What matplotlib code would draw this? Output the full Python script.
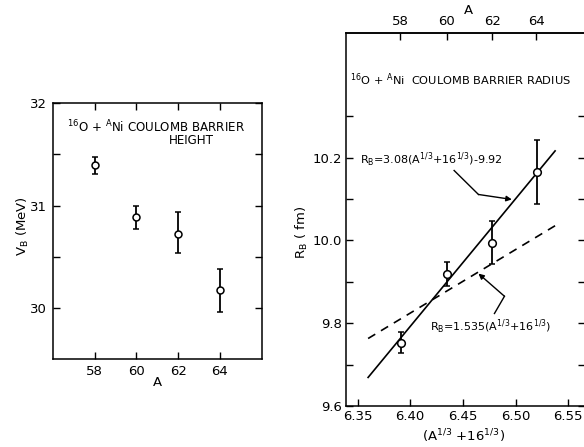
import numpy as np
import matplotlib
matplotlib.use("Agg")
import matplotlib.pyplot as plt

plt.rcParams['font.family'] = ['DejaVu Sans']
plt.rcParams['mathtext.default'] = 'regular'

# ---------------- data ----------------
# Left panel: Coulomb barrier height
A_vals = [58, 60, 62, 64]
VB = [31.395, 30.888, 30.722, 30.176]
VB_err_lo = [0.088, 0.114, 0.19, 0.218]
VB_err_hi = [0.081, 0.110, 0.21, 0.204]

# Right panel: Coulomb barrier radius
X_vals = [6.391, 6.435, 6.478, 6.520]      # A^(1/3) + 16^(1/3)
RB = [9.753, 9.918, 9.993, 10.165]
RB_err_lo = [0.024, 0.029, 0.051, 0.078]
RB_err_hi = [0.025, 0.029, 0.053, 0.078]

# Fit lines (end points)
fit_solid_x = [6.360, 6.5376]
fit_solid_y = [9.669, 10.216]
fit_dash_x = [6.360, 6.540]
fit_dash_y = [9.763, 10.039]

# Axis ticks
left_xticks = [58, 60, 62, 64]
left_yticks = [30.0, 30.5, 31.0, 31.5, 32.0]
left_ylabels = ['30', '', '31', '', '32']
right_xticks = [6.35, 6.40, 6.45, 6.50, 6.55]
right_xlabels = ['6.35', '6.40', '6.45', '6.50', '6.55']
right_yticks = [9.6, 9.7, 9.8, 9.9, 10.0, 10.1, 10.2, 10.3]
right_ylabels = ['9.6', '', '9.8', '', '10.0', '', '10.2', '']
top_A_ticks = [58, 60, 62, 64]

W, H = 584, 447
fig = plt.figure(figsize=(W / 100, H / 100), dpi=100)

def px_axes(x0, y0, x1, y1):
    return fig.add_axes([x0 / W, 1 - y1 / H, (x1 - x0) / W, (y1 - y0) / H])

FS = 9.5
tick_kw = dict(direction='in', length=5, width=1.0, labelsize=FS)

# ---------------- left panel ----------------
axL = px_axes(52.7, 103.0, 261.7, 359.3)
axL.errorbar(A_vals, VB, yerr=[VB_err_lo, VB_err_hi], fmt='o', mfc='white',
             mec='black', color='black', ms=5, mew=1.1, elinewidth=1.3,
             capsize=2.5, capthick=1.3)
axL.set_xlim(56, 66)
axL.set_ylim(29.5, 32)
axL.set_xticks(left_xticks)
axL.set_xticklabels([str(a) for a in left_xticks])
axL.set_yticks(left_yticks)
axL.set_yticklabels(left_ylabels)
axL.tick_params(top=True, right=True, pad=4, **tick_kw)
for s in axL.spines.values():
    s.set_linewidth(1.1)
axL.text(0.067, 0.907, r'$^{16}$O + $^{A}$Ni COULOMB BARRIER', transform=axL.transAxes,
         ha='left', va='center', fontsize=8.6)
axL.text(0.665, 0.853, 'HEIGHT', transform=axL.transAxes, ha='center', va='center', fontsize=8.6)
axL.text(-0.142, 0.52, r'V$_B$ (MeV)', transform=axL.transAxes, rotation=90,
         ha='center', va='center', fontsize=FS)
axL.text(0.5, -0.092, 'A', transform=axL.transAxes, ha='center', va='center', fontsize=FS)

# ---------------- right panel ----------------
axR = px_axes(346.0, 33.3, 585.0, 406.0)
axR.plot(fit_solid_x, fit_solid_y, color='black', lw=1.2)
axR.plot(fit_dash_x, fit_dash_y, color='black', lw=1.2, ls=(0, (5, 4)))
axR.errorbar(X_vals, RB, yerr=[RB_err_lo, RB_err_hi], fmt='o', mfc='white',
             mec='black', color='black', ms=5.5, mew=1.1, elinewidth=1.3,
             capsize=2.5, capthick=1.3, zorder=3)
axR.set_xlim(6.339, 6.566)
axR.set_ylim(9.6, 10.5)
axR.set_xticks(right_xticks)
axR.set_xticklabels(right_xlabels)
axR.set_yticks(right_yticks)
axR.set_yticklabels(right_ylabels)
axR.tick_params(right=True, pad=3, **tick_kw)
for s in axR.spines.values():
    s.set_linewidth(1.1)

c16 = 16 ** (1 / 3)
sec = axR.secondary_xaxis('top', functions=(lambda x: (np.asarray(x) - c16) ** 3,
                                            lambda a: np.cbrt(a) + c16))
sec.set_xticks(top_A_ticks)
sec.set_xticklabels([str(a) for a in top_A_ticks])
sec.tick_params(pad=4, **tick_kw)
sec.spines['top'].set_linewidth(1.1)

axR.text(0.017, 0.875, r'$^{16}$O + $^{A}$Ni  COULOMB BARRIER RADIUS', transform=axR.transAxes,
         ha='left', va='center', fontsize=8.2)
axR.text(-0.185, 0.467, r'R$_B$ ( fm)', transform=axR.transAxes, rotation=90,
         ha='center', va='center', fontsize=FS)
axR.text(0.49, -0.082, r'(A$^{1/3}$ +16$^{1/3}$)', transform=axR.transAxes,
         ha='center', va='center', fontsize=FS)
axR.text(0.513, 1.062, 'A', transform=axR.transAxes, ha='center', va='center', fontsize=FS)

# annotations
axR.text(6.3525, 10.195, r'R$_B$=3.08(A$^{1/3}$+16$^{1/3}$)-9.92', ha='left', va='center',
         fontsize=8)
axR.plot([6.4417, 6.4648], [10.1687, 10.1108], color='black', lw=1.0)
axR.annotate('', xy=(6.4965, 10.0988), xytext=(6.4648, 10.1108),
             arrowprops=dict(arrowstyle='-|>', color='black', lw=1.0, mutation_scale=8,
                             shrinkA=0, shrinkB=0))
axR.text(6.419, 9.79, r'R$_B$=1.535(A$^{1/3}$+16$^{1/3}$)', ha='left', va='center',
         fontsize=8)
axR.plot([6.480, 6.4895], [9.8234, 9.865], color='black', lw=1.0)
axR.annotate('', xy=(6.4648, 9.9198), xytext=(6.4895, 9.865),
             arrowprops=dict(arrowstyle='-|>', color='black', lw=1.0, mutation_scale=8,
                             shrinkA=0, shrinkB=0))

fig.savefig('out.png', dpi=100)
